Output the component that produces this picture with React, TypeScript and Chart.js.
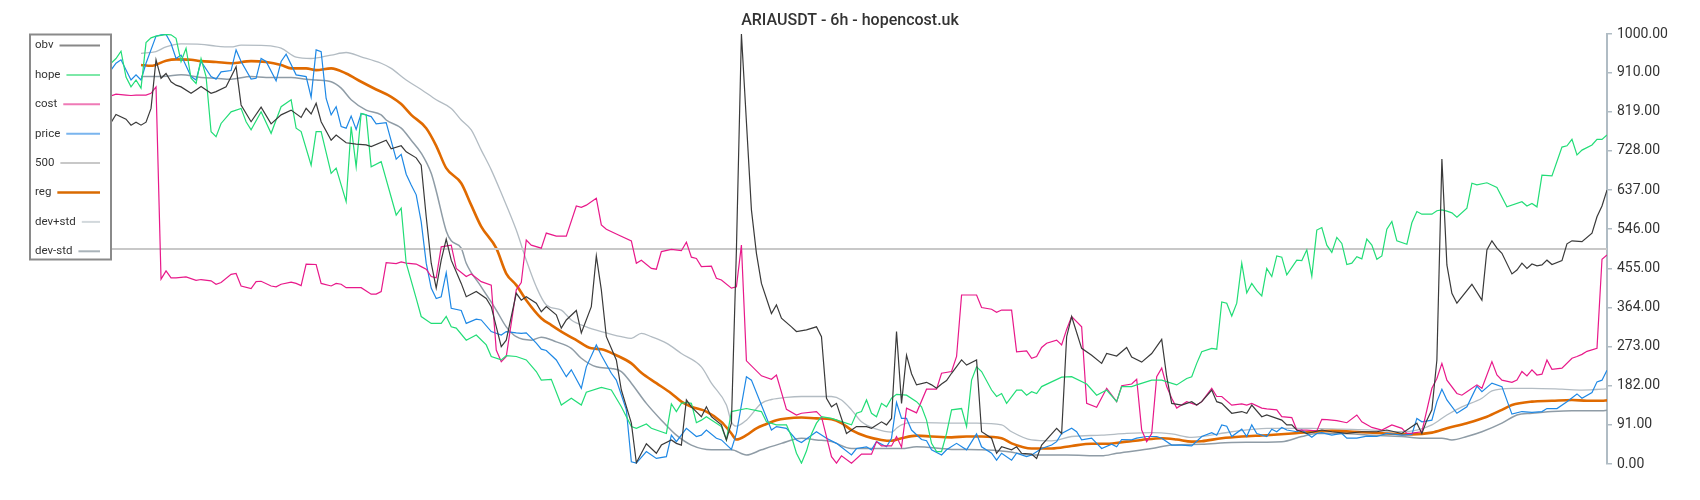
import React, { useEffect, useRef } from 'react';
import { Chart, registerables } from 'chart.js';

Chart.register(...registerables);

const TITLE = 'ARIAUSDT - 6h - hopencost.uk';
const xMax = 299;
const yTickValues = [0, 91, 182, 273, 364, 455, 546, 637, 728, 819, 910, 1000];
const seriesNames = ['obv', 'hope', 'cost', 'price', '500', 'reg', 'dev+std', 'dev-std'];

// [bar index, value]
const obvPoints: [number, number][] = [[0,794],[1,813],[3,802],[4,788],[5,795],[6,788],[7,795],[8,827],[9,940],[10,897],[11,908],[12,889],[13,881],[14,877],[16,862],[17,870],[18,878],[20,862],[21,866],[23,877],[25,924],[26,835],[28,796],[30,830],[32,791],[34,812],[36,823],[38,806],[39,827],[40,814],[41,839],[42,796],[44,753],[45,765],[47,747],[49,744],[51,742],[52,738],[55,753],[56,733],[58,740],[59,726],[61,712],[62,695],[63,575],[64,467],[65,409],[66,474],[67,523],[68,474],[70,420],[71,389],[73,401],[75,385],[76,366],[78,273],[79,288],[81,397],[82,381],[83,389],[85,374],[86,354],[87,366],[89,347],[90,316],[91,335],[93,357],[94,305],[96,366],[97,484],[98,405],[99,296],[101,242],[102,172],[104,95],[105,3],[107,47],[109,25],[110,44],[112,56],[113,48],[114,44],[115,149],[116,133],[118,110],[119,133],[120,110],[122,91],[123,56],[124,95],[125,498],[126,1000],[128,591],[129,490],[130,420],[132,350],[133,370],[134,339],[136,319],[137,308],[139,312],[141,319],[142,296],[143,153],[144,133],[145,141],[147,71],[149,87],[151,87],[152,83],[154,98],[155,91],[156,106],[157,308],[158,141],[159,253],[160,210],[161,184],[163,190],[164,184],[165,176],[166,186],[167,194],[168,211],[170,242],[171,230],[173,242],[174,75],[176,60],[177,25],[178,40],[180,33],[181,40],[182,25],[184,23],[185,13],[186,44],[189,83],[190,71],[191,296],[192,343],[194,269],[196,253],[198,234],[199,257],[201,251],[203,271],[204,249],[206,237],[208,257],[210,290],[211,203],[212,141],[214,137],[216,145],[217,137],[218,145],[220,172],[221,145],[222,141],[224,118],[226,122],[227,118],[228,137],[230,110],[231,114],[234,102],[235,91],[236,91],[237,79],[239,71],[242,79],[244,75],[247,71],[250,75],[253,75],[255,79],[258,71],[261,95],[262,71],[263,102],[264,126],[265,242],[266,709],[267,463],[268,397],[269,374],[272,418],[274,381],[275,498],[276,519],[277,502],[278,490],[280,442],[281,451],[282,467],[283,455],[284,465],[285,461],[286,463],[287,474],[288,464],[290,473],[291,512],[292,519],[294,517],[296,537],[297,575],[298,600],[299,637]];

const hopePoints: [number, number][] = [[0,932],[1,943],[2,960],[3,900],[4,877],[5,893],[6,874],[7,980],[8,991],[9,995],[10,997],[11,999],[12,998],[13,990],[14,936],[15,967],[16,897],[17,885],[18,943],[19,901],[20,773],[21,761],[22,792],[24,819],[26,827],[27,796],[28,777],[30,819],[32,769],[34,831],[36,847],[37,781],[38,773],[40,695],[41,773],[42,773],[44,676],[45,688],[47,610],[48,785],[49,691],[50,815],[51,812],[52,691],[54,703],[57,579],[58,595],[59,467],[61,385],[62,343],[64,327],[66,327],[67,343],[68,319],[69,316],[71,288],[73,300],[75,277],[76,250],[78,242],[79,252],[81,250],[83,242],[85,215],[86,195],[88,197],[90,137],[92,153],[94,137],[95,167],[98,178],[100,172],[102,133],[104,87],[105,83],[107,93],[108,83],[111,71],[112,140],[113,122],[114,141],[115,143],[116,141],[117,96],[118,102],[119,110],[121,95],[122,87],[123,56],[124,122],[127,129],[130,122],[131,98],[133,91],[135,91],[136,64],[137,25],[138,2],[139,30],[140,70],[141,95],[142,110],[144,106],[148,91],[149,118],[150,122],[151,149],[152,118],[153,110],[154,141],[155,133],[156,153],[157,162],[159,160],[161,145],[162,133],[163,102],[164,48],[165,29],[166,29],[167,71],[168,126],[170,129],[171,87],[172,195],[173,226],[174,215],[176,172],[177,157],[178,164],[179,141],[181,172],[182,172],[183,160],[184,168],[185,164],[186,180],[188,191],[190,202],[192,203],[195,186],[197,160],[199,172],[201,145],[202,180],[204,180],[205,184],[208,195],[210,195],[213,184],[215,199],[216,203],[217,234],[218,261],[220,269],[221,267],[222,377],[223,374],[224,344],[225,374],[226,467],[227,398],[228,420],[229,403],[230,391],[231,455],[232,436],[233,484],[234,481],[235,440],[237,474],[238,473],[239,498],[240,437],[241,544],[242,550],[243,509],[244,492],[245,527],[246,513],[247,464],[248,467],[249,482],[250,477],[251,523],[252,509],[253,476],[254,484],[255,546],[256,564],[257,519],[259,511],[260,561],[261,587],[262,581],[264,581],[265,589],[266,591],[267,588],[268,584],[269,574],[271,595],[272,653],[273,649],[275,654],[277,643],[279,598],[282,610],[283,600],[284,606],[285,598],[286,672],[288,670],[290,737],[291,740],[292,755],[293,719],[294,730],[296,742],[297,755],[298,755],[299,765]];

const costPoints: [number, number][] = [[0,856],[1,860],[3,858],[4,857],[5,858],[7,858],[8,862],[9,877],[10,430],[11,449],[12,433],[13,433],[15,435],[17,427],[18,429],[20,426],[21,418],[22,422],[24,441],[25,443],[26,414],[28,408],[29,424],[30,425],[32,414],[33,412],[34,418],[36,423],[37,420],[38,415],[39,465],[41,464],[42,420],[44,414],[45,420],[46,418],[47,410],[49,410],[50,410],[52,395],[53,395],[54,401],[55,468],[57,466],[58,470],[59,467],[61,465],[62,459],[63,453],[64,436],[65,433],[66,505],[68,509],[69,455],[71,436],[72,442],[74,424],[76,416],[77,265],[78,238],[79,250],[81,405],[82,422],[83,521],[84,509],[86,502],[87,537],[89,530],[91,530],[93,600],[94,597],[95,602],[97,618],[98,556],[99,546],[101,535],[104,519],[105,467],[106,474],[108,455],[109,453],[110,494],[112,499],[114,496],[115,516],[116,481],[117,478],[118,459],[120,460],[121,432],[122,428],[124,409],[125,412],[126,509],[127,240],[130,205],[132,197],[133,207],[135,127],[137,114],[138,118],[141,122],[142,110],[144,17],[145,2],[146,19],[148,2],[150,23],[152,23],[153,52],[154,42],[156,42],[157,64],[158,39],[159,130],[161,119],[163,174],[165,174],[166,211],[168,215],[169,250],[170,393],[173,393],[174,364],[176,360],[177,353],[178,358],[180,358],[181,261],[183,263],[184,246],[185,250],[186,271],[187,281],[189,288],[190,277],[191,313],[192,343],[194,319],[195,141],[197,132],[199,176],[201,145],[202,182],[204,186],[205,197],[206,79],[207,52],[208,71],[209,203],[210,223],[211,180],[212,153],[213,130],[215,145],[217,137],[218,145],[220,176],[221,157],[222,157],[224,137],[226,140],[227,137],[228,141],[230,130],[231,128],[233,126],[234,110],[236,108],[237,79],[239,79],[241,77],[242,104],[243,103],[245,101],[247,96],[249,114],[250,98],[252,85],[254,79],[256,91],[258,83],[259,71],[260,72],[262,75],[264,176],[265,199],[266,234],[267,195],[269,164],[270,160],[271,168],[273,184],[274,176],[276,238],[277,207],[278,195],[280,190],[281,195],[282,215],[283,205],[284,219],[285,207],[286,209],[287,242],[288,220],[290,223],[292,246],[293,250],[294,255],[295,262],[297,269],[298,476],[299,486]];

const pricePoints: [number, number][] = [[0,916],[1,932],[2,940],[4,893],[5,905],[6,893],[7,932],[9,995],[10,998],[11,999],[12,978],[13,943],[14,951],[16,901],[17,893],[18,936],[20,901],[21,895],[22,912],[24,915],[25,963],[26,936],[28,895],[29,897],[30,943],[31,936],[33,891],[34,936],[35,953],[37,905],[39,901],[40,853],[41,963],[42,959],[43,850],[44,812],[45,831],[46,785],[47,781],[48,809],[49,778],[50,815],[52,808],[53,791],[55,794],[57,709],[58,720],[59,674],[60,649],[61,626],[62,563],[63,467],[64,409],[65,385],[66,389],[67,445],[68,362],[70,357],[71,327],[73,337],[74,335],[76,308],[78,300],[79,308],[81,305],[82,304],[83,305],[85,281],[86,267],[87,264],[89,242],[91,203],[92,219],[94,176],[95,226],[97,277],[98,253],[100,211],[101,195],[103,126],[104,5],[105,2],[107,29],[109,13],[111,17],[112,67],[113,52],[115,83],[117,64],[118,67],[119,79],[121,60],[122,56],[124,34],[125,71],[127,203],[128,195],[132,79],[133,87],[135,83],[137,56],[138,50],[141,75],[143,60],[145,48],[148,21],[149,36],[151,40],[152,33],[153,52],[155,40],[156,60],[157,143],[158,106],[159,106],[160,79],[162,57],[163,54],[164,33],[166,21],[167,33],[169,48],[171,33],[173,70],[174,40],[176,25],[177,9],[178,25],[180,9],[181,25],[183,17],[184,21],[186,36],[188,44],[189,52],[190,71],[192,83],[193,75],[194,56],[196,60],[198,36],[200,46],[201,40],[202,57],[204,56],[205,60],[207,64],[209,64],[210,60],[212,44],[214,44],[216,42],[218,64],[220,73],[221,67],[222,91],[223,88],[224,64],[226,81],[227,64],[228,91],[229,71],[231,64],[232,81],[233,75],[234,85],[235,79],[237,75],[238,79],[240,62],[241,71],[242,73],[244,67],[246,71],[247,60],[249,60],[251,65],[253,64],[255,71],[258,67],[260,69],[261,106],[262,98],[264,102],[265,145],[266,174],[267,149],[269,118],[271,133],[273,181],[274,168],[276,188],[278,180],[280,116],[282,122],[284,120],[286,122],[287,129],[289,129],[291,145],[293,163],[294,153],[296,166],[297,191],[298,195],[299,218]];

const levelPoints: [number, number][] = [[0,500],[299,500]];

const regPoints: [number, number][] = [[6,928],[8,926],[11,938],[13,941],[16,940],[18,937],[21,935],[24,932],[28,937],[31,935],[34,928],[36,920],[39,920],[41,916],[44,920],[47,908],[50,889],[53,871],[56,854],[58,837],[60,812],[63,781],[65,740],[67,688],[70,653],[72,602],[74,552],[77,502],[79,443],[81,416],[83,381],[86,339],[88,323],[90,308],[93,288],[96,269],[98,267],[101,253],[104,234],[106,212],[109,188],[112,164],[114,145],[116,133],[119,122],[122,98],[124,71],[125,57],[127,67],[129,83],[131,93],[133,102],[135,106],[138,108],[141,106],[144,104],[146,95],[148,79],[151,64],[154,56],[156,54],[158,60],[161,66],[164,64],[168,62],[171,64],[174,64],[178,60],[180,48],[184,36],[188,36],[192,42],[196,47],[199,47],[203,52],[206,56],[210,60],[213,57],[216,52],[218,53],[222,60],[226,64],[231,67],[236,71],[240,75],[244,77],[250,74],[255,71],[260,69],[264,73],[267,83],[271,95],[275,110],[278,126],[280,137],[284,145],[288,147],[292,149],[295,147],[298,147],[299,148]];

const devPlusPoints: [number, number][] = [[6,955],[9,959],[11,970],[14,977],[18,976],[21,972],[24,970],[26,974],[31,973],[34,967],[37,946],[40,943],[44,951],[47,957],[50,947],[54,932],[56,920],[59,893],[62,871],[65,847],[68,827],[70,800],[72,777],[74,730],[76,684],[78,630],[81,544],[83,474],[85,412],[87,370],[90,358],[92,335],[95,319],[98,308],[102,296],[104,292],[106,304],[108,296],[111,281],[114,257],[118,226],[120,188],[123,137],[124,98],[125,88],[127,102],[130,141],[132,150],[135,155],[138,157],[144,157],[146,149],[148,126],[150,98],[153,81],[156,74],[157,83],[158,91],[160,96],[162,96],[168,95],[173,95],[178,91],[180,75],[184,56],[188,54],[192,64],[198,67],[203,71],[208,73],[212,70],[216,62],[218,64],[224,75],[231,83],[240,83],[246,81],[252,79],[258,75],[261,79],[264,91],[267,114],[270,133],[274,153],[276,170],[280,176],[284,176],[290,174],[294,172],[298,174],[299,175]];

const devMinusPoints: [number, number][] = [[6,901],[11,902],[14,905],[18,899],[21,897],[24,895],[28,901],[31,899],[36,899],[39,895],[41,893],[44,889],[46,874],[48,847],[51,823],[54,812],[55,800],[58,781],[60,753],[62,723],[64,676],[65,635],[67,542],[68,519],[70,502],[71,467],[74,412],[77,358],[79,319],[81,296],[84,288],[86,295],[89,284],[92,269],[94,246],[97,226],[100,222],[102,215],[104,188],[107,141],[110,102],[113,67],[116,44],[120,33],[124,33],[127,21],[130,33],[134,48],[138,60],[141,56],[144,52],[148,36],[158,36],[161,40],[168,34],[174,33],[179,29],[184,21],[191,21],[198,19],[201,25],[208,36],[212,44],[218,46],[224,50],[234,52],[238,64],[241,71],[246,71],[252,67],[258,64],[262,60],[266,60],[268,56],[271,64],[274,75],[278,95],[281,114],[284,118],[288,122],[292,124],[298,124],[299,125]];

const seriesData = [obvPoints, hopePoints, costPoints, pricePoints, levelPoints, regPoints, devPlusPoints, devMinusPoints];

const lineColors = ['#3a3a3a', '#22dd77', '#e8198a', '#1e88e5', '#c8c8c8', '#e06a00', '#b3bcc3', '#8f9ca6'];
const lineWidths = [1.2, 1.2, 1.2, 1.2, 2, 2.6, 1.3, 1.5];
const lineTensions = [0, 0, 0, 0, 0, 0.4, 0.4, 0.4];
const sampleColors = ['#888888', '#7de8a8', '#ef7ab6', '#7ab5ee', '#c8c8c8', '#d96a00', '#d2d8dc', '#a9b3b9'];

const overlayPlugin = {
  id: 'overlay',
  afterDraw(chart: any) {
    const ctx = chart.ctx as CanvasRenderingContext2D;
    ctx.save();
    // legend box
    ctx.fillStyle = '#ffffff';
    ctx.fillRect(30, 34.5, 81, 225);
    ctx.strokeStyle = '#8a8a8a';
    ctx.lineWidth = 2;
    ctx.strokeRect(30, 34.5, 81, 225);
    ctx.font = '11.5px Roboto';
    ctx.textBaseline = 'middle';
    ctx.textAlign = 'left';
    seriesNames.forEach((name, k) => {
      const y = 45.5 + k * 29.4;
      ctx.fillStyle = '#333333';
      ctx.fillText(name, 35, y);
      const w = ctx.measureText(name).width;
      ctx.strokeStyle = sampleColors[k];
      ctx.lineWidth = name === 'reg' ? 2.6 : 2;
      ctx.beginPath();
      ctx.moveTo(35 + w + 6, y);
      ctx.lineTo(100, y);
      ctx.stroke();
    });
    // title
    ctx.fillStyle = '#333333';
    ctx.font = '500 16px Roboto';
    ctx.textAlign = 'center';
    ctx.fillText(TITLE, 850, 21);
    ctx.restore();
  },
};

export default function App() {
  const canvasRef = useRef<HTMLCanvasElement | null>(null);

  useEffect(() => {
    document.body.style.margin = '0';
    const canvas = canvasRef.current;
    if (!canvas) return;
    const datasets = seriesNames.map((name, k) => ({
      label: name,
      data: seriesData[k].map(([x, y]) => ({ x, y })),
      borderColor: lineColors[k],
      backgroundColor: lineColors[k],
      borderWidth: lineWidths[k],
      pointRadius: 0,
      tension: lineTensions[k],
      cubicInterpolationMode: lineTensions[k] > 0 ? 'monotone' : 'default',
      fill: false,
    }));
    const chart = new Chart(canvas, {
      type: 'line',
      data: { datasets },
      options: {
        animation: false,
        responsive: false,
        devicePixelRatio: 1,
        layout: { padding: { left: 111, top: 34, bottom: 36, right: 0 } },
        plugins: {
          legend: { display: false },
          title: { display: false },
          tooltip: { enabled: false },
        },
        scales: {
          x: { type: 'linear', min: 0, max: xMax, display: false },
          y: {
            position: 'right',
            min: 0,
            max: 1000,
            afterBuildTicks: (s: any) => {
              s.ticks = yTickValues.map((v) => ({ value: v }));
            },
            afterFit: (s: any) => {
              s.width = 93;
            },
            grid: {
              drawOnChartArea: false,
              drawTicks: true,
              tickLength: 5,
              color: '#b0bcc4',
              lineWidth: 1.5,
            },
            border: { color: '#b0bcc4', width: 2 },
            ticks: {
              padding: 5,
              color: '#333333',
              font: { family: 'Roboto', size: 14 },
              callback: (v: any) => Number(v).toFixed(2),
            },
          },
        },
      } as any,
      plugins: [overlayPlugin],
    });
    return () => chart.destroy();
  }, []);

  return (
    <div style={{ width: 1700, height: 500 }}>
      <canvas ref={canvasRef} width={1700} height={500} style={{ display: 'block' }} />
    </div>
  );
}
